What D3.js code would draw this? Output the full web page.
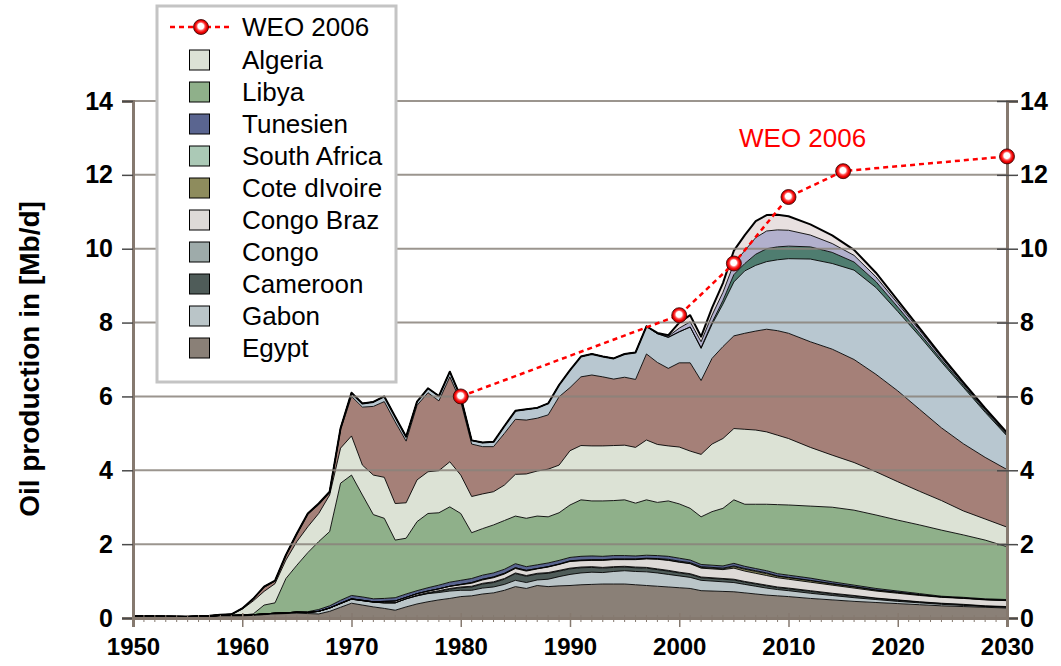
<!DOCTYPE html>
<html><head><meta charset="utf-8">
<script src="https://cdn.jsdelivr.net/npm/d3@7"></script>
<style>body{margin:0;background:#fff;} svg{display:block;font-family:"Liberation Sans",Arial,sans-serif;}</style>
</head><body><svg id="c" width="1061" height="666"></svg>
<script>
const years = [1950,1955,1957,1958,1959,
 1960,1961,1962,1963,1964,1965,1966,1967,1968,1969,
 1970,1971,1972,1973,1974,1975,1976,1977,1978,1979,
 1980,1981,1982,1983,1984,1985,1986,1987,1988,1989,
 1990,1991,1992,1993,1994,1995,1996,1997,1998,1999,
 2000,2001,2002,2003,2004,2005,2006,2007,2008,2009,2010,
 2012,2014,2016,2018,2020,2022,2024,2026,2028,2030];

const egypt = [0.05,0.04,0.05,0.06,0.06,
 0.06,0.07,0.09,0.11,0.12,0.13,0.12,0.11,0.18,0.29,
 0.40,0.35,0.30,0.26,0.21,0.30,0.38,0.44,0.49,0.53,
 0.58,0.60,0.65,0.68,0.75,0.85,0.80,0.88,0.85,0.87,
 0.88,0.90,0.91,0.92,0.92,0.92,0.90,0.88,0.86,0.84,
 0.82,0.80,0.74,0.73,0.72,0.71,0.68,0.65,0.62,0.60,0.58,
 0.53,0.49,0.45,0.42,0.39,0.36,0.33,0.31,0.29,0.27];
const gabon = [0,0,0,0.01,0.01,
 0.02,0.02,0.02,0.02,0.02,0.03,0.03,0.07,0.09,0.10,
 0.11,0.12,0.13,0.15,0.20,0.22,0.22,0.22,0.20,0.20,
 0.17,0.15,0.16,0.16,0.16,0.17,0.16,0.15,0.20,0.25,
 0.30,0.32,0.33,0.31,0.34,0.36,0.36,0.37,0.36,0.34,
 0.32,0.30,0.28,0.27,0.26,0.25,0.23,0.21,0.19,0.17,0.16,
 0.14,0.12,0.10,0.08,0.06,0.05,0.04,0.03,0.02,0.02];
const cameroon = [0,0,0,0,0,
 0,0,0,0,0,0,0,0,0,0,
 0,0,0,0,0,0,0,0.01,0.03,0.05,
 0.07,0.09,0.11,0.12,0.14,0.18,0.17,0.16,0.16,0.15,
 0.15,0.14,0.13,0.12,0.11,0.10,0.10,0.10,0.09,0.09,
 0.08,0.08,0.07,0.07,0.07,0.07,0.06,0.06,0.06,0.05,0.05,
 0.05,0.04,0.04,0.03,0.03,0.02,0.02,0.02,0.01,0.01];
const congo = [0,0,0,0,0,
 0,0,0,0,0,0,0,0,0,0,
 0,0,0,0,0,0,0.02,0.02,0.02,0.02,
 0.02,0.02,0.02,0.02,0.02,0.02,0.02,0.02,0.02,0.02,
 0.02,0.02,0.02,0.02,0.02,0.02,0.02,0.02,0.02,0.02,
 0.02,0.02,0.02,0.02,0.02,0.02,0.02,0.02,0.02,0.02,0.02,
 0.02,0.02,0.02,0.01,0.01,0.01,0.01,0.01,0.01,0.01];
const congoBraz = [0,0,0,0,0,
 0,0,0,0,0,0,0,0,0,0.01,
 0.01,0.01,0.01,0.04,0.05,0.04,0.04,0.04,0.05,0.06,
 0.06,0.08,0.09,0.11,0.12,0.12,0.12,0.12,0.15,0.16,
 0.18,0.17,0.17,0.19,0.19,0.18,0.20,0.23,0.26,0.27,
 0.27,0.27,0.24,0.24,0.24,0.30,0.28,0.27,0.26,0.25,0.24,
 0.23,0.22,0.20,0.19,0.18,0.17,0.16,0.16,0.16,0.16];
const coteDIvoire = [0,0,0,0,0,
 0,0,0,0,0,0,0,0,0,0,
 0,0,0,0,0,0,0,0,0,0,
 0.01,0.02,0.02,0.02,0.02,0.02,0.02,0.01,0.01,0.01,
 0.01,0.01,0.01,0.01,0.01,0.01,0.01,0.01,0.01,0.01,
 0.01,0.01,0.02,0.02,0.02,0.04,0.05,0.05,0.05,0.04,0.04,
 0.04,0.03,0.03,0.02,0.02,0.02,0.01,0.01,0.01,0.01];
const southAfrica = [0,0,0,0,0,
 0,0,0,0,0,0,0,0,0,0,
 0,0,0,0,0,0,0,0,0,0,
 0,0,0,0,0,0,0,0,0,0,
 0.01,0.01,0.01,0.01,0.01,0.01,0.01,0.01,0.01,0.02,
 0.02,0.02,0.02,0.02,0.02,0.02,0.02,0.02,0.02,0.01,0.01,
 0.01,0.01,0.01,0.01,0.01,0,0,0,0,0];
const tunesien = [0,0,0,0,0,
 0,0,0,0,0,0,0.02,0.05,0.06,0.08,
 0.09,0.09,0.08,0.08,0.09,0.09,0.08,0.09,0.10,0.11,
 0.11,0.11,0.11,0.11,0.11,0.11,0.10,0.10,0.10,0.10,
 0.09,0.10,0.10,0.09,0.09,0.09,0.08,0.08,0.08,0.08,
 0.08,0.07,0.06,0.06,0.06,0.07,0.06,0.06,0.06,0.06,0.06,
 0.06,0.05,0.04,0.04,0.03,0.03,0.02,0.02,0.02,0.02];
const libya = [0,0,0,0,0,
 0,0.02,0.24,0.28,0.93,1.27,1.60,1.84,2.01,3.17,
 3.26,2.76,2.28,2.17,1.56,1.51,1.87,2.01,1.96,2.04,
 1.81,1.24,1.26,1.30,1.32,1.29,1.31,1.32,1.25,1.29,
 1.42,1.53,1.49,1.50,1.49,1.51,1.43,1.50,1.44,1.50,
 1.47,1.40,1.29,1.45,1.56,1.72,1.68,1.74,1.80,1.87,1.90,
 1.95,2.02,2.03,1.99,1.92,1.86,1.79,1.69,1.59,1.43];
const algeria = [0,0,0.01,0.01,0.02,
 0.16,0.35,0.37,0.52,0.50,0.64,0.70,0.76,0.99,0.95,
 1.06,0.81,1.07,1.11,0.99,0.96,1.13,1.13,1.14,1.22,
 1.04,0.98,0.94,0.90,0.96,1.13,1.20,1.22,1.29,1.29,
 1.47,1.47,1.49,1.49,1.49,1.48,1.51,1.62,1.57,1.49,
 1.54,1.55,1.69,1.83,1.89,1.93,2.03,2.01,1.96,1.88,1.80,
 1.59,1.41,1.29,1.17,1.04,0.91,0.80,0.65,0.57,0.53];
const nigeria = [0,0,0,0.01,0.01,
 0.02,0.05,0.11,0.07,0.12,0.20,0.34,0.24,0.06,0.50,
 1.07,1.57,1.86,2.05,2.21,1.67,2.02,2.14,1.89,2.30,
 1.99,1.42,1.28,1.22,1.40,1.49,1.46,1.43,1.47,1.85,
 1.71,1.86,1.92,1.87,1.80,1.84,1.84,2.33,2.22,2.10,
 2.28,2.39,2.00,2.32,2.49,2.51,2.60,2.68,2.78,2.83,2.85,
 2.86,2.87,2.79,2.64,2.46,2.22,1.97,1.82,1.67,1.56];
const angola = [0,0,0,0,0,
 0,0.01,0.02,0.01,0.02,0.02,0.02,0.03,0.03,0.04,
 0.10,0.10,0.12,0.14,0.14,0.12,0.10,0.12,0.13,0.14,
 0.12,0.10,0.11,0.13,0.20,0.23,0.29,0.28,0.31,0.32,
 0.47,0.55,0.57,0.55,0.56,0.63,0.73,0.75,0.78,0.84,
 0.84,0.97,0.87,0.92,1.15,1.46,1.69,1.78,1.83,1.92,2.02,
 2.24,2.32,2.42,2.35,2.15,1.98,1.78,1.53,1.22,0.91];
const sudan = [0,0,0,0,0,
 0,0,0,0,0,0,0,0,0,0,
 0,0,0,0,0,0,0,0,0,0,
 0,0,0,0,0,0,0,0,0,0,
 0,0,0,0,0,0,0,0,0,0,
 0,0,0.02,0.05,0.10,0.20,0.20,0.30,0.35,0.35,0.34,
 0.33,0.30,0.22,0.16,0.12,0.08,0.06,0.05,0.04,0.03];
const eqGuinea = [0,0,0,0,0,
 0,0,0,0,0,0,0,0,0,0,
 0,0,0,0,0,0,0,0,0,0,
 0,0,0,0,0,0,0,0,0,0,
 0,0,0,0,0,0,0,0,0.01,0.03,
 0.10,0.14,0.16,0.20,0.22,0.30,0.35,0.45,0.48,0.46,0.43,
 0.32,0.24,0.18,0.13,0.10,0.08,0.06,0.04,0.04,0.03];
const chad = [0,0,0,0,0,
 0,0,0,0,0,0,0,0,0,0,
 0,0,0,0,0,0,0,0,0,0,
 0,0,0,0,0,0,0,0,0,0,
 0,0,0,0,0,0,0,0,0.01,0.03,
 0.15,0.18,0.14,0.20,0.25,0.35,0.42,0.45,0.43,0.41,0.38,
 0.29,0.22,0.15,0.11,0.08,0.06,0.05,0.04,0.03,0.03];

const weoYears = [1980,2000,2005,2010,2015,2030];
const weoValues = [6.0,8.2,9.6,11.4,12.1,12.5];

const yTicks = [0,2,4,6,8,10,12,14];
const xTicks = [1950,1960,1970,1980,1990,2000,2010,2020,2030];

const seriesNames = ["Egypt","Gabon","Cameroon","Congo","Congo Braz","Cote dIvoire","South Africa","Tunesien","Libya","Algeria","Nigeria","Angola","Sudan","Eq. Guinea","Chad"];
const seriesData = [egypt,gabon,cameroon,congo,congoBraz,coteDIvoire,southAfrica,tunesien,libya,algeria,nigeria,angola,sudan,eqGuinea,chad];
const seriesColors = ["#8a8077","#bac5c8","#4f5c59","#9eabaa","#dedad7","#8e8c5d","#abc9b6","#5a6590","#8fb08a","#dce2d5","#a58078","#b8c7d0","#4f7d70","#b2b0cd","#e8e0e0"];
const legendNames = ["Algeria","Libya","Tunesien","South Africa","Cote dIvoire","Congo Braz","Congo","Cameroon","Gabon","Egypt"];

const svg = d3.select("#c");
const x = d3.scaleLinear().domain([1950,2030]).range([133,1007]);
const y = d3.scaleLinear().domain([0,14]).range([618,101]);

const rows = years.map((yr,i)=>{const r={year:yr}; seriesNames.forEach((n,k)=>r[n]=seriesData[k][i]); return r;});
const stack = d3.stack().keys(seriesNames)(rows);
const colorOf = Object.fromEntries(seriesNames.map((n,i)=>[n,seriesColors[i]]));

const defs = svg.append("defs");
const g = defs.append("radialGradient").attr("id","ball").attr("cx","50%").attr("cy","50%").attr("r","55%").attr("fx","48%").attr("fy","42%");
[[0,"#ffffff"],[0.35,"#ffffff"],[0.52,"#ff5050"],[0.72,"#f00000"],[1,"#a00000"]].forEach(s=>g.append("stop").attr("offset",s[0]).attr("stop-color",s[1]));

const area = d3.area().x(d=>x(d.data.year)).y0(d=>y(d[0])).y1(d=>y(d[1]));
const topLine = d3.line().x(d=>x(d.data.year)).y(d=>y(d[1]));

svg.append("g").selectAll("path").data(stack).join("path")
  .attr("d",area).attr("fill",d=>colorOf[d.key]);
svg.append("g").selectAll("path").data(stack).join("path")
  .attr("d",topLine).attr("fill","none").attr("stroke","#000")
  .attr("stroke-width",(d,i)=>i===stack.length-1?2:0.9).attr("stroke-linejoin","round");

// gridlines
svg.append("g").selectAll("line").data(yTicks.filter(t=>t>0)).join("line")
  .attr("x1",x(1950)).attr("x2",x(2030)).attr("y1",d=>y(d)).attr("y2",d=>y(d))
  .attr("stroke","#8a827a").attr("stroke-opacity",0.85).attr("stroke-width",2);

const axisCol = "#85796f";
const ya = svg.append("g").attr("transform",`translate(${x(1950)},0)`)
  .call(d3.axisLeft(y).tickValues(yTicks).tickSize(11).tickPadding(9).tickFormat(d3.format("d")));
const yr = svg.append("g").attr("transform",`translate(${x(2030)},0)`)
  .call(d3.axisRight(y).tickValues(yTicks).tickSize(11).tickPadding(3).tickFormat(d3.format("d")));
[ya,yr].forEach(a=>{
  a.select(".domain").attr("stroke",axisCol).attr("stroke-width",3);
  a.selectAll(".tick line").attr("stroke","#4a4a4a").attr("stroke-width",1.5);
  a.selectAll(".tick text").attr("font-size",25).attr("font-weight","bold").attr("fill","#000")
   .attr("font-family","'Liberation Sans',Arial,sans-serif");
});
yr.selectAll(".tick line").attr("x1",-10);
yr.selectAll(".tick text").attr("x",13);

const xa = svg.append("g").attr("transform",`translate(0,${y(0)})`)
  .call(d3.axisBottom(x).tickValues(xTicks).tickSize(9).tickPadding(11).tickFormat(d3.format("d")));
xa.select(".domain").attr("stroke",axisCol).attr("stroke-width",3);
xa.selectAll(".tick line").attr("stroke",axisCol).attr("stroke-width",1.5).attr("y1",-5);
xa.selectAll(".tick text").attr("font-size",24).attr("font-weight","bold").attr("fill","#000")
  .attr("font-family","'Liberation Sans',Arial,sans-serif");
const minor = d3.range(1951,2030).filter(v=>v%10!==0);
xa.append("g").selectAll("line").data(minor).join("line")
  .attr("x1",d=>x(d)).attr("x2",d=>x(d)).attr("y1",-3).attr("y2",4)
  .attr("stroke",axisCol).attr("stroke-width",1);

svg.append("text").attr("transform","translate(39,359) rotate(-90)").attr("text-anchor","middle")
  .attr("font-size",28).attr("font-weight","bold").text("Oil production in [Mb/d]");

const weo = weoYears.map((yy,i)=>({year:yy,v:weoValues[i]}));
svg.append("path").datum(weo).attr("d",d3.line().x(d=>x(d.year)).y(d=>y(d.v)))
  .attr("fill","none").attr("stroke","#ff0000").attr("stroke-width",2.5).attr("stroke-dasharray","5,4");
svg.append("g").selectAll("circle").data(weo).join("circle")
  .attr("cx",d=>x(d.year)).attr("cy",d=>y(d.v)).attr("r",7.5)
  .attr("fill","url(#ball)").attr("stroke","#300").attr("stroke-width",0.8);
svg.append("text").attr("x",739).attr("y",147).attr("font-size",26).attr("fill","#ff0000").text("WEO 2006");

const lg = svg.append("g");
lg.append("rect").attr("x",157).attr("y",6).attr("width",239).attr("height",376)
  .attr("fill","#fff").attr("stroke","#c4c4c4").attr("stroke-width",3);
lg.append("line").attr("x1",170).attr("x2",231).attr("y1",27).attr("y2",27)
  .attr("stroke","#ff0000").attr("stroke-width",2.5).attr("stroke-dasharray","5,4");
lg.append("circle").attr("cx",201).attr("cy",27).attr("r",7.5).attr("fill","url(#ball)").attr("stroke","#300").attr("stroke-width",0.8);
lg.append("text").attr("x",242).attr("y",36).attr("font-size",26).text("WEO 2006");
legendNames.forEach((n,i)=>{
  const cy = 60 + i*32;
  lg.append("rect").attr("x",189.5).attr("y",cy-10).attr("width",20).attr("height",20)
    .attr("fill",colorOf[n]).attr("stroke","#000").attr("stroke-width",1);
  lg.append("text").attr("x",242).attr("y",cy+9).attr("font-size",26).text(n);
});
</script></body></html>
